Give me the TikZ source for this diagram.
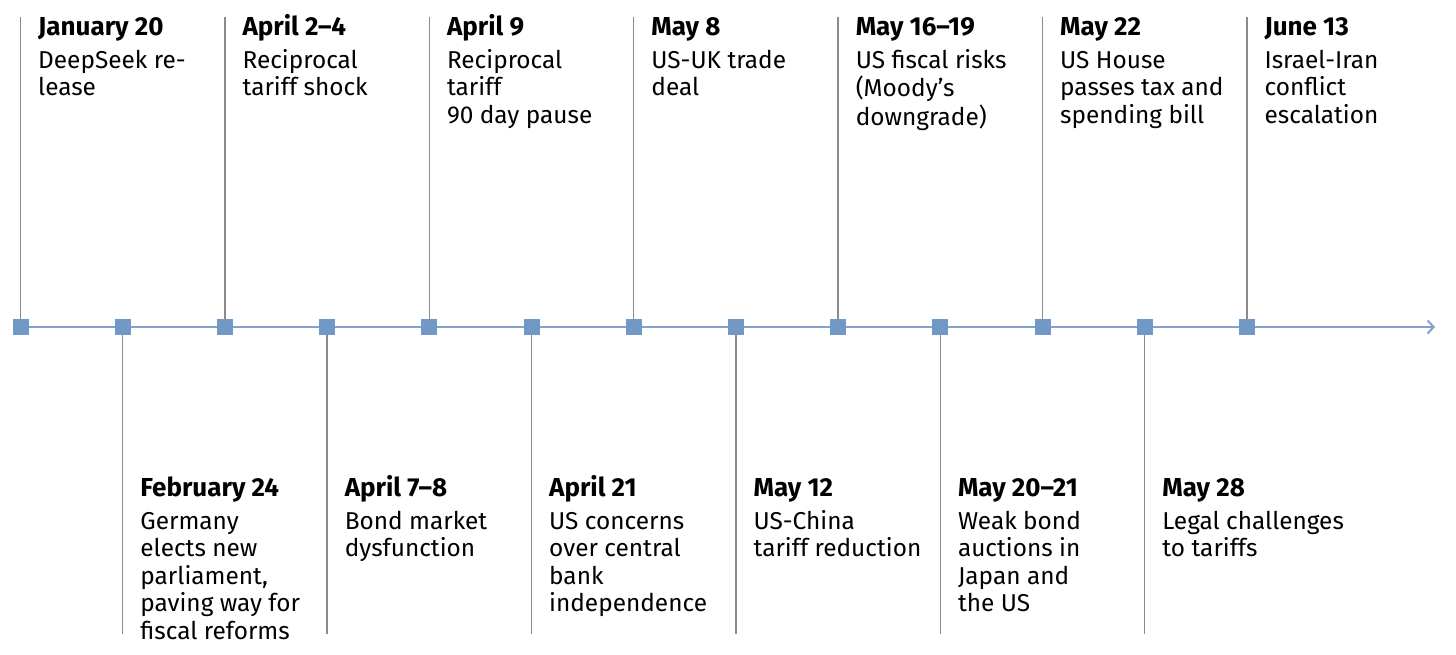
\documentclass[tikz,border=0pt]{standalone}
\usepackage{fontspec}
\setmainfont{Fira Sans}
\usetikzlibrary{arrows.meta}
\definecolor{tlblue}{HTML}{7FA2CF}
\definecolor{sqblue}{HTML}{7299C6}
\definecolor{stem}{HTML}{8C8C8C}
\tikzset{
  sq/.style={fill=sqblue, minimum size=16pt, inner sep=0pt, outer sep=0pt},
  stemline/.style={draw=stem, line width=1.4pt},
  axis/.style={draw=tlblue, line width=2pt, -{Straight Barb[length=6pt,width=13pt,line width=2pt]}},
  lbl/.style={anchor=base west, inner sep=0pt, font=\fontsize{24.4}{27.5}\selectfont},
}
\newcommand{\evt}[2]{\begin{tabular}[t]{@{}l@{}}{\fontsize{26}{27.5}\selectfont\bfseries #1}\\[5.5pt] #2\end{tabular}}
\begin{document}
\begin{tikzpicture}[x=1pt,y=-1pt]
\useasboundingbox (0,0) rectangle (1456,654);
% squares
\foreach \i in {0,...,12} {
  \node[sq] (s\i) at ({20.5+102.2*\i},327) {};
}
\coordinate (aend) at (1435,327);
\draw[axis] (s0.west) -- (aend);
\foreach \i in {0,...,12} { \node[sq] at (s\i) {}; }
% upper stems
\foreach \i in {0,2,4,6,8,10,12} {
  \coordinate (t\i) at ({20.5+102.2*\i},17);
  \draw[stemline] (t\i) -- (s\i.north);
}
% lower stems
\foreach \i in {1,3,5,7,9,11} {
  \coordinate (b\i) at ({20.5+102.2*\i},634);
  \draw[stemline] (s\i.south) -- (b\i);
}
% upper labels
\node[lbl] (l0) at ({20.5+102.2*0+17.5},35) {\evt{January 20}{DeepSeek re-\\ lease}};
\node[lbl] (l2) at ({20.5+102.2*2+17.5},35) {\evt{April 2–4}{Reciprocal\\ tariff shock}};
\node[lbl] (l4) at ({20.5+102.2*4+17.5},35) {\evt{April 9}{Reciprocal\\ tariff\\ 90 day pause}};
\node[lbl] (l6) at ({20.5+102.2*6+17.5},35) {\evt{May 8}{US-UK trade\\ deal}};
\node[lbl] (l8) at ({20.5+102.2*8+17.5},35) {\evt{May 16–19}{US fiscal risks\\ (Moody’s\\ downgrade)}};
\node[lbl] (l10) at ({20.5+102.2*10+17.5},35) {\evt{May 22}{US House\\ passes tax and\\ spending bill}};
\node[lbl] (l12) at ({20.5+102.2*12+17.5},35) {\evt{June 13}{Israel-Iran\\ conflict\\ escalation}};
% lower labels
\node[lbl] (l1) at ({20.5+102.2*1+17.5},496) {\evt{February 24}{Germany\\ elects new\\ parliament,\\ paving way for\\ fiscal reforms}};
\node[lbl] (l3) at ({20.5+102.2*3+17.5},496) {\evt{April 7–8}{Bond market\\ dysfunction}};
\node[lbl] (l5) at ({20.5+102.2*5+17.5},496) {\evt{April 21}{US concerns\\ over central\\ bank\\ independence}};
\node[lbl] (l7) at ({20.5+102.2*7+17.5},496) {\evt{May 12}{US-China\\ tariff reduction}};
\node[lbl] (l9) at ({20.5+102.2*9+17.5},496) {\evt{May 20–21}{Weak bond\\ auctions in\\ Japan and\\ the US}};
\node[lbl] (l11) at ({20.5+102.2*11+17.5},496) {\evt{May 28}{Legal challenges\\ to tariffs}};
\end{tikzpicture}
\end{document}
